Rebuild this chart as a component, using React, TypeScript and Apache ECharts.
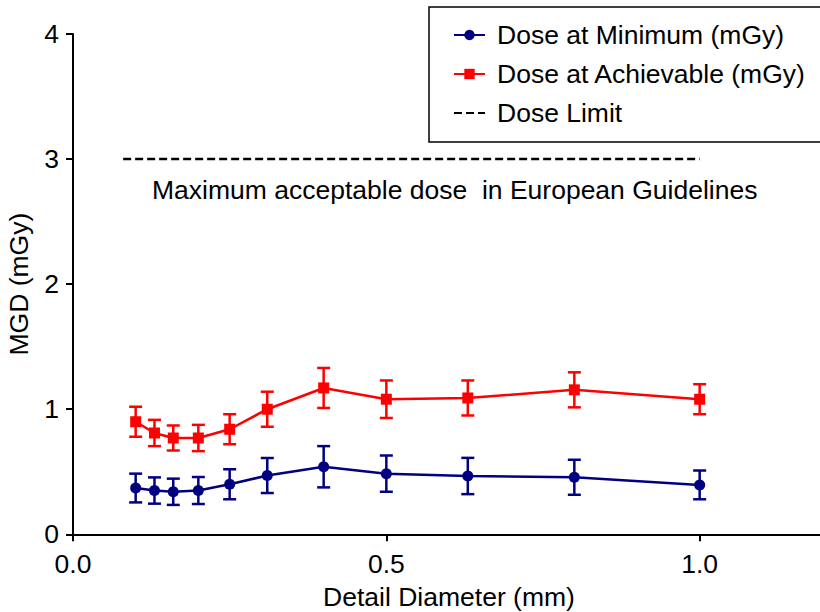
import React, { useEffect, useRef } from "react";
import * as echarts from "echarts";

// Detail diameters (mm) of the test objects
const diameters = [0.1, 0.13, 0.16, 0.2, 0.25, 0.31, 0.4, 0.5, 0.63, 0.8, 1.0];

// Mean glandular dose at the minimum image-quality threshold, with error
const minDose = [0.37, 0.35, 0.34, 0.35, 0.4, 0.47, 0.54, 0.485, 0.466, 0.456, 0.395];
const minErr = [0.115, 0.105, 0.105, 0.108, 0.12, 0.14, 0.165, 0.145, 0.145, 0.14, 0.115];

// Mean glandular dose at the achievable image-quality threshold, with error
const achDose = [0.9, 0.81, 0.77, 0.77, 0.84, 1.0, 1.17, 1.08, 1.09, 1.155, 1.08];
const achErr = [0.12, 0.105, 0.1, 0.105, 0.12, 0.14, 0.16, 0.15, 0.14, 0.14, 0.12];

// Dose limit from the European Guidelines
const limitX = [0.08, 1.0];
const limitDose = 3;

const xTicks = [0, 0.5, 1.0];

const FONT = "'Liberation Sans', Arial, Helvetica, sans-serif";
const FS = 26.5;
const BLUE = "#000080";
const RED = "#ff0000";

function errorSeries(name: string, xs: number[], ys: number[], es: number[], color: string) {
  return {
    type: "custom",
    name,
    silent: true,
    z: 2,
    data: xs.map((x, i) => [x, ys[i] - es[i], ys[i] + es[i]]),
    renderItem: (params: any, api: any) => {
      const lo = api.coord([api.value(0), api.value(1)]);
      const hi = api.coord([api.value(0), api.value(2)]);
      const cap = 6.5;
      const style = { stroke: color, lineWidth: 2.5 };
      return {
        type: "group",
        children: [
          { type: "line", shape: { x1: lo[0], y1: lo[1], x2: hi[0], y2: hi[1] }, style },
          { type: "line", shape: { x1: lo[0] - cap, y1: lo[1], x2: lo[0] + cap, y2: lo[1] }, style },
          { type: "line", shape: { x1: hi[0] - cap, y1: hi[1], x2: hi[0] + cap, y2: hi[1] }, style },
        ],
      };
    },
  };
}

export default function App() {
  const ref = useRef<HTMLDivElement>(null);

  useEffect(() => {
    if (!ref.current) return;
    const chart = echarts.init(ref.current, undefined, { renderer: "svg" });
    const axisCommon = {
      axisLine: { show: true, lineStyle: { color: "#000", width: 2 } },
      axisTick: { show: true, length: 7, lineStyle: { color: "#000", width: 2 } },
      splitLine: { show: false },
      axisLabel: { color: "#000", fontSize: FS, fontFamily: FONT, margin: 14 },
      nameTextStyle: { color: "#000", fontSize: FS, fontFamily: FONT },
      nameLocation: "middle",
    };
    chart.setOption({
      animation: false,
      backgroundColor: "#fff",
      textStyle: { fontFamily: FONT },
      grid: {
        left: 73,
        top: 34,
        width: 752,
        height: 500.3,
        containLabel: false,
        outerBoundsMode: "none",
      },
      xAxis: {
        ...axisCommon,
        type: "value",
        min: 0,
        max: 1.2,
        interval: 0.5,
        name: "Detail Diameter (mm)",
        nameGap: 49,
        axisLabel: {
          ...axisCommon.axisLabel,
          margin: 16,
          formatter: (v: number) => (xTicks.includes(v) ? v.toFixed(1) : ""),
        },
      },
      yAxis: {
        ...axisCommon,
        type: "value",
        min: 0,
        max: 4,
        interval: 1,
        name: "MGD (mGy)",
        nameGap: 41,
      },
      legend: {
        orient: "vertical",
        left: 448,
        top: 15,
        itemGap: 9,
        itemWidth: 31,
        itemHeight: 13,
        data: [
          "Dose at Minimum (mGy)",
          "Dose at Achievable (mGy)",
          { name: "Dose Limit", itemStyle: { color: "rgba(0,0,0,0)", borderWidth: 0 } },
        ],
        textStyle: { color: "#000", fontSize: FS, fontFamily: FONT, lineHeight: 30, padding: [0, 0, 0, 7] },
        selectedMode: false,
      },
      graphic: [
        {
          type: "rect",
          shape: { x: 429, y: 7, width: 420, height: 135 },
          style: { fill: "none", stroke: "#000", lineWidth: 1.5 },
          z: 1,
        },
        {
          type: "text",
          x: 152,
          y: 190,
          style: {
            text: "Maximum acceptable dose  in European Guidelines",
            fontSize: FS,
            fontFamily: FONT,
            fill: "#000",
            verticalAlign: "middle",
          },
        },
      ],
      series: [
        errorSeries("minErr", diameters, minDose, minErr, BLUE),
        errorSeries("achErr", diameters, achDose, achErr, RED),
        {
          type: "line",
          name: "Dose at Minimum (mGy)",
          data: diameters.map((x, i) => [x, minDose[i]]),
          symbol: "circle",
          symbolSize: 11,
          lineStyle: { color: BLUE, width: 2.5 },
          itemStyle: { color: BLUE },
          z: 3,
        },
        {
          type: "line",
          name: "Dose at Achievable (mGy)",
          data: diameters.map((x, i) => [x, achDose[i]]),
          symbol: "rect",
          symbolSize: 11,
          lineStyle: { color: RED, width: 2.5 },
          itemStyle: { color: RED },
          z: 3,
        },
        {
          type: "line",
          name: "Dose Limit",
          data: limitX.map((x) => [x, limitDose]),
          symbol: "none",
          lineStyle: { color: "#000", width: 2.5, type: [8, 4] },
          itemStyle: { color: "#000" },
          z: 3,
        },
      ],
    });
    return () => chart.dispose();
  }, []);

  return (
    <div
      ref={ref}
      style={{ position: "fixed", left: 0, top: 0, width: 820, height: 612, background: "#fff" }}
    />
  );
}
